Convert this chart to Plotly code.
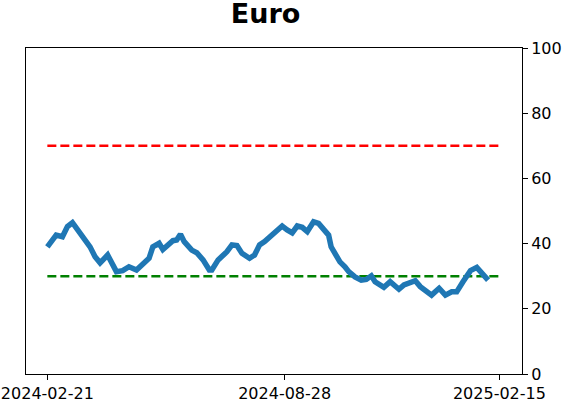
import plotly.graph_objects as go

title_text = "Euro"
dates = ["2024-02-21", "2024-02-28", "2024-03-04", "2024-03-08", "2024-03-12", "2024-03-16",
         "2024-03-23", "2024-03-26", "2024-03-30", "2024-04-03", "2024-04-09", "2024-04-13",
         "2024-04-16", "2024-04-21", "2024-04-26", "2024-05-02", "2024-05-10", "2024-05-12",
         "2024-05-15", "2024-05-20", "2024-05-23", "2024-05-31", "2024-06-03", "2024-06-06",
         "2024-06-09", "2024-06-15", "2024-06-19", "2024-06-24", "2024-06-29", "2024-07-01",
         "2024-07-06", "2024-07-13", "2024-07-17", "2024-07-21", "2024-07-25", "2024-07-31",
         "2024-08-04", "2024-08-08", "2024-08-12", "2024-08-16", "2024-08-20", "2024-08-26",
         "2024-08-30", "2024-09-03", "2024-09-07", "2024-09-11", "2024-09-15", "2024-09-20",
         "2024-09-24", "2024-09-29", "2024-10-02", "2024-10-04", "2024-10-08", "2024-10-11",
         "2024-10-15", "2024-10-18", "2024-10-23", "2024-10-28", "2024-11-01", "2024-11-05",
         "2024-11-08", "2024-11-15", "2024-11-20", "2024-11-27", "2024-12-01", "2024-12-10",
         "2024-12-14", "2024-12-18", "2024-12-23", "2024-12-29", "2025-01-03", "2025-01-08",
         "2025-01-12", "2025-01-17", "2025-01-23", "2025-01-28", "2025-02-01", "2025-02-06"]
values = [39.0, 42.6, 42.1, 45.2, 46.4, 44.2,
          40.1, 39.0, 36.0, 34.1, 36.5, 33.4,
          31.4, 31.7, 32.9, 31.9, 34.8, 35.5,
          39.0, 40.1, 38.2, 40.9, 41.1, 42.9,
          40.6, 38.0, 37.2, 35.0, 31.9, 31.9,
          35.0, 37.5, 39.6, 39.4, 37.0, 35.5,
          36.5, 39.6, 40.6, 42.1, 43.2, 45.4,
          44.2, 43.3, 45.4, 45.0, 43.7, 46.7,
          46.2, 44.2, 42.6, 39.0, 36.5, 34.4,
          32.9, 31.4, 29.8, 28.8, 29.0, 30.1,
          28.3, 26.6, 28.3, 26.0, 27.3, 28.6,
          26.8, 25.8, 24.2, 26.3, 24.2, 25.2,
          25.2, 28.3, 31.7, 32.7, 30.9, 28.8]
threshold_dates = ["2024-02-21", "2025-02-15"]
upper_level = [70, 70]
lower_level = [30, 30]
x_ticks = ["2024-02-21", "2024-08-28", "2025-02-15"]
y_ticks = [0, 20, 40, 60, 80, 100]

fig = go.Figure()
fig.add_trace(go.Scatter(x=threshold_dates, y=upper_level, mode="lines",
                         line=dict(color="#ff0000", width=2.5, dash="9px,4px"), showlegend=False))
fig.add_trace(go.Scatter(x=threshold_dates, y=lower_level, mode="lines",
                         line=dict(color="#008000", width=2.5, dash="9px,4px"), showlegend=False))
fig.add_trace(go.Scatter(x=dates, y=values, mode="lines",
                         line=dict(color="#1f77b4", width=5.5), showlegend=False))

fig.update_layout(
    width=562, height=402,
    margin=dict(l=26, r=40, t=48, b=28, autoexpand=False),
    paper_bgcolor="white", plot_bgcolor="white",
    font=dict(family="DejaVu Sans", size=16, color="black"),
    title=dict(text="<b>" + title_text + "</b>", x=0.4724, xanchor="center", y=0.99, yanchor="top",
               pad=dict(t=0), font=dict(size=27, family="DejaVu Sans", color="black")),
)
fig.update_xaxes(type="date", range=["2024-02-04", "2025-03-05"], automargin=False,
                 tickvals=x_ticks, ticktext=x_ticks, ticks="outside", ticklen=5, tickcolor="black",
                 showline=True, linecolor="black", linewidth=1, mirror=True, showgrid=False,
                 zeroline=False, tickfont=dict(size=16))
fig.update_yaxes(range=[0, 100], tickvals=y_ticks, side="right", ticks="outside", ticklen=5,
                 automargin=False,
                 tickcolor="black", showline=True, linecolor="black", linewidth=1, mirror=True,
                 showgrid=False, zeroline=False, tickfont=dict(size=16))

fig.write_html("out.html", config={"displayModeBar": False},
               post_script="document.body.style.margin='0';document.documentElement.style.margin='0';")
